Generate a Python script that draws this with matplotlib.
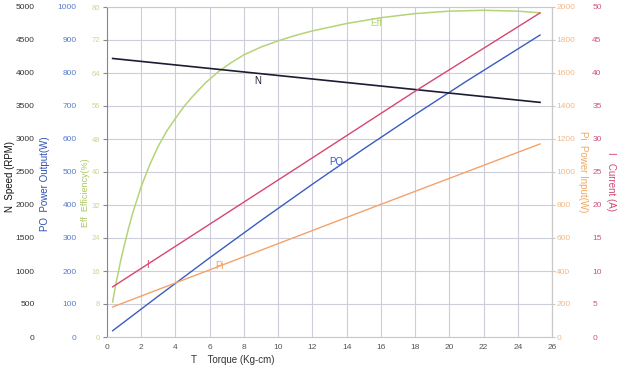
import matplotlib.pyplot as plt

plt.rcParams['font.family'] = ['Liberation Sans', 'DejaVu Sans']

# torque (Kg-cm) and readings of each curve
torque_lin = [0.33, 25.3]
speed_n = [4220, 3555]

torque_po = [0.33, 3, 6, 9, 12, 15, 18, 21, 25.3]
power_out = [19, 124, 240, 353, 463, 570, 674, 775, 915]

torque_pi = [0.33, 15.9, 25.3]
power_in = [182, 800, 1170]

torque_i = [0.33, 11.2, 18.1, 25.3]
current = [7.6, 25.8, 37.4, 49.1]

torque_eff = [0.33, 0.5, 0.8, 1.0, 1.25, 1.5, 2.0, 2.5, 3.0, 3.5, 4.0, 4.5, 5.0, 5.75,
              6.5, 7.25, 8, 9, 10, 11, 12, 14, 16, 18, 20, 22, 24, 25.3]
efficiency = [8.5, 12.5, 18.5, 22, 26.2, 30, 36.5, 41.8, 46.3, 50, 53, 55.9, 58.3, 61.6,
              64.3, 66.5, 68.4, 70.3, 71.8, 73.1, 74.2, 76, 77.4, 78.4, 79, 79.2, 79, 78.6]

x_ticks = list(range(0, 27, 2))
eff_ticks = list(range(0, 81, 8))
po_ticks = list(range(0, 1001, 100))
n_ticks = list(range(0, 5001, 500))
pi_ticks = list(range(0, 2001, 200))
i_ticks = list(range(0, 51, 5))

c_n = '#1c1c34'
c_po = '#3b5cc0'
c_eff = '#b4d478'
c_pi = '#f4a26a'
c_i = '#d8466e'

fig = plt.figure(figsize=(6.21, 3.72), dpi=100)
ax = fig.add_axes([107 / 621, 35 / 372, 445 / 621, 330 / 372])
ax.set_xlim(0, 26)
ax.set_ylim(0, 80)
ax.set_xticks(x_ticks)
ax.set_yticks(eff_ticks)
ax.grid(color='#cdcddb', lw=0.8)
ax.set_axisbelow(True)
for s in ['top', 'right', 'bottom']:
    ax.spines[s].set_color('#c8c8c8')
ax.spines['left'].set_color('#888888')
ax.tick_params(axis='x', length=0, pad=5, labelsize=6, labelcolor='#555555')
ax.tick_params(axis='y', length=3, color='#888888', pad=2, labelsize=5.5, labelcolor='#c8d890')
ax.plot(torque_eff, efficiency, color=c_eff, lw=1.1)
ax.text(15.4, 75.5, 'Eff', color=c_eff, fontsize=7)

ax_po = ax.twinx()
ax_po.yaxis.set_ticks_position('left')
ax_po.set_ylim(0, 1000)
ax_po.set_yticks(po_ticks)
ax_po.tick_params(axis='y', length=0, pad=22, labelsize=6, labelcolor='#5a7cc8')
ax_po.plot(torque_po, power_out, color=c_po, lw=1.0)
ax_po.text(13.0, 520, 'PO', color=c_po, fontsize=7)

ax_n = ax.twinx()
ax_n.yaxis.set_ticks_position('left')
ax_n.set_ylim(0, 5000)
ax_n.set_yticks(n_ticks)
ax_n.tick_params(axis='y', length=0, pad=52, labelsize=6, labelcolor='#333333')
ax_n.plot(torque_lin, speed_n, color=c_n, lw=1.2)
ax_n.text(8.6, 3830, 'N', color=c_n, fontsize=7)

ax_pi = ax.twinx()
ax_pi.set_ylim(0, 2000)
ax_pi.set_yticks(pi_ticks)
ax_pi.tick_params(axis='y', length=2, color='#c8c8c8', pad=1, labelsize=6, labelcolor='#f2b886')
ax_pi.plot(torque_pi, power_in, color=c_pi, lw=1.0)
ax_pi.text(6.3, 410, 'Pi', color=c_pi, fontsize=7)

ax_i = ax.twinx()
ax_i.set_ylim(0, 50)
ax_i.set_yticks(i_ticks)
ax_i.tick_params(axis='y', length=0, pad=29, labelsize=6, labelcolor='#d05478')
ax_i.plot(torque_i, current, color=c_i, lw=1.0)
ax_i.text(2.3, 10.4, 'I', color=c_i, fontsize=7)

for a in [ax_po, ax_n, ax_pi, ax_i]:
    for s in a.spines.values():
        s.set_visible(False)
ax_pi.spines['right'].set_visible(True)
ax_pi.spines['right'].set_color('#c8c8c8')

fig.text(10 / 621, 1 - 177 / 372, 'N  Speed (RPM)', rotation=90, ha='center', va='center', fontsize=7, color='#111111')
fig.text(45 / 621, 1 - 184 / 372, 'PO  Power Output(W)', rotation=90, ha='center', va='center', fontsize=7, color='#3050b0')
fig.text(85 / 621, 1 - 193 / 372, 'Eff  Efficiency(%)', rotation=90, ha='center', va='center', fontsize=6.5, color='#a8c860')
fig.text(583 / 621, 1 - 172 / 372, 'Pi  Power Input(W)', rotation=270, ha='center', va='center', fontsize=7, color='#f0a860')
fig.text(611 / 621, 1 - 182 / 372, 'I   Current (A)', rotation=270, ha='center', va='center', fontsize=7, color='#d04870')
fig.text(233 / 621, 1 - 360 / 372, 'T    Torque (Kg-cm)', ha='center', va='center', fontsize=7, color='#333333')

fig.savefig('out.png', dpi=100)
